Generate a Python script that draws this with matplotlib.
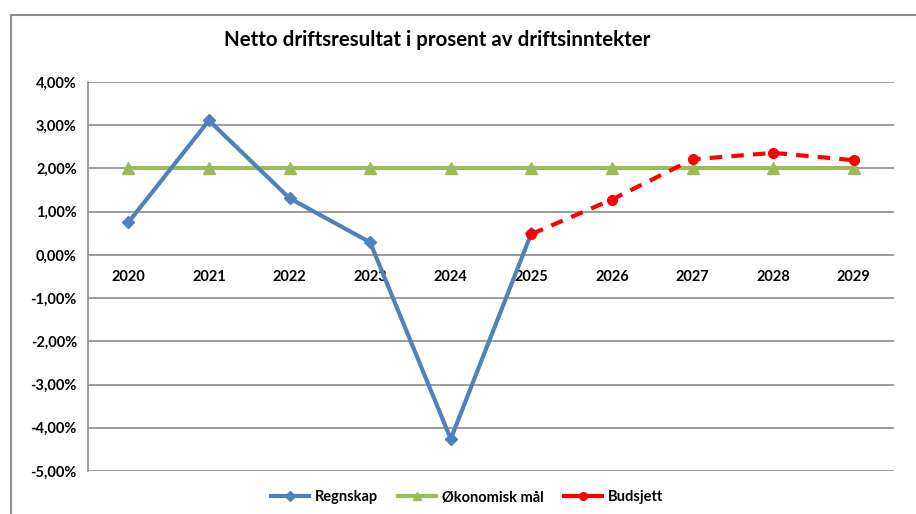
import numpy as np
import matplotlib.pyplot as plt
from matplotlib.ticker import FuncFormatter
from matplotlib.lines import Line2D

plt.rcParams['font.family'] = ['Lato', 'DejaVu Sans']

years = ['2020', '2021', '2022', '2023', '2024', '2025', '2026', '2027', '2028', '2029']
regnskap = [0.75, 3.11, 1.31, 0.29, -4.26, 0.50, None, None, None, None]
maal = [2.0] * 10
budsjett = [None, None, None, None, None, 0.48, 1.28, 2.21, 2.36, 2.19]

x = np.arange(len(years))

def to_arr(v):
    return np.array([np.nan if a is None else a for a in v], dtype=float)

fig = plt.figure(figsize=(9.16, 5.14), dpi=100)
ax = fig.add_axes([0.0961, 0.0837, 0.88, 0.7568])

# chart frame
fig.add_artist(Line2D([0.012, 0.012], [0.0, 0.971], color='#8c8c8c', lw=1.5, transform=fig.transFigure))
fig.add_artist(Line2D([0.012, 1.0], [0.971, 0.971], color='#8c8c8c', lw=1.5, transform=fig.transFigure))

ax.plot(x, to_arr(regnskap), color='#4F81BD', lw=3, marker='D', ms=6, label='Regnskap', zorder=3)
ax.plot(x, maal, color='#9BBB59', lw=3, marker='^', ms=8, label='Økonomisk mål', zorder=2)
ax.plot(x, to_arr(budsjett), color='#FF0000', lw=3, ls=(0, (3, 2.2)), marker='o', ms=7,
        label='Budsjett', zorder=4)

ax.set_xlim(-0.5, len(years) - 0.5)
ax.set_ylim(-5, 4)
ax.set_yticks(np.arange(-5, 5, 1))
ax.yaxis.set_major_formatter(FuncFormatter(lambda v, p: f'{v:.2f}%'.replace('.', ',')))
ax.set_xticks(x)
ax.set_xticklabels(years)

ax.grid(axis='y', color='#8c8c8c', lw=1.2)
ax.set_axisbelow(True)
for s in ['top', 'right']:
    ax.spines[s].set_visible(False)
ax.spines['bottom'].set_position(('data', 0))
ax.spines['bottom'].set_visible(False)
ax.spines['left'].set_color('#8c8c8c')
ax.spines['left'].set_linewidth(1.2)
ax.tick_params(axis='both', length=0, labelsize=10.5)
ax.tick_params(axis='x', pad=11)
ax.tick_params(axis='y', pad=8)
for lab in ax.get_xticklabels() + ax.get_yticklabels():
    lab.set_fontweight('bold')

fig.text(0.477, 0.922, 'Netto driftsresultat i prosent av driftsinntekter', ha='center', va='center',
         fontsize=14.8, fontweight='bold')

leg = fig.legend(loc='center', bbox_to_anchor=(0.51, 0.033), ncol=3, frameon=False,
                 handlelength=2.6, handletextpad=0.4, columnspacing=1.4,
                 prop={'weight': 'bold', 'size': 10.5})
for h in leg.legend_handles:
    h.set_linestyle('-')
    h.set_markersize(5.5)

fig.savefig('out.png', dpi=100)
